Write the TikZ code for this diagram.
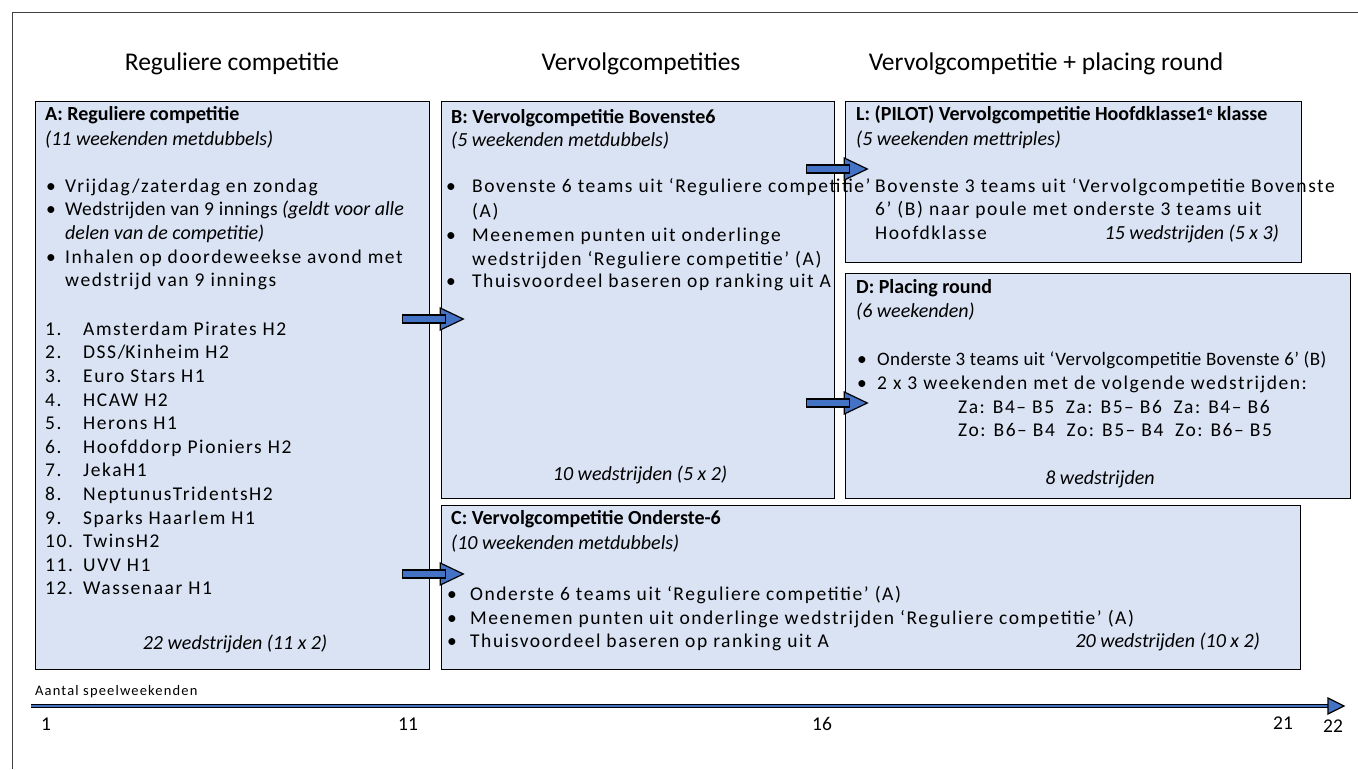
\documentclass[tikz,border=0pt]{standalone}
\usepackage{fontspec}
\usetikzlibrary{calc}
\setmainfont{Carlito}
\newfontfamily\spacedfont[LetterSpace=8]{Carlito}
\newfontfamily\tightfont[LetterSpace=2]{Carlito}
\definecolor{boxfill}{HTML}{DAE3F3}
\definecolor{arrowblue}{HTML}{4472C4}
\definecolor{framegray}{HTML}{404040}
\newcommand\bodyf{\spacedfont\fontsize{19.5}{23}\selectfont}
\tikzset{
  box/.style={draw=black, line width=1.3pt, fill=boxfill, anchor=north west, inner sep=0pt},
  t/.style={anchor=mid west, inner sep=0pt, font=\bodyf},
  tr/.style={anchor=mid east, inner sep=0pt, font=\bodyf},
  hd/.style={anchor=mid west, inner sep=0pt, font=\bfseries\fontsize{20}{24}\selectfont},
  it/.style={anchor=mid west, inner sep=0pt, font=\itshape\fontsize{20}{24}\selectfont},
  itc/.style={anchor=mid, inner sep=0pt, font=\itshape\fontsize{20}{24}\selectfont},
  itr/.style={anchor=mid east, inner sep=0pt, font=\itshape\fontsize{20}{24}\selectfont},
  ttl/.style={anchor=mid, inner sep=0pt, font=\fontsize{25.5}{30}\selectfont},
  barrow/.pic={
    \draw[fill=arrowblue, line width=1.2pt, line join=miter] (38,-11) -- (61,0) -- (38,11) -- cycle;
    \draw[fill=arrowblue, line width=1.2pt] (0,-4) rectangle (43,4);
  }
}
\begin{document}
\begin{tikzpicture}[x=1pt,y=-1pt]
\useasboundingbox (0,0) rectangle (1358,769);
% frame
\draw[framegray, line width=0.9pt] (12,769) -- (12,12) -- (1358,12);
% titles
\node[ttl] (t1) at (232,68) {Reguliere competitie};
\node[ttl] (t2) at (641,68) {Vervolgcompetities};
\node[ttl] (t3) at (1046,68) {Vervolgcompetitie + placing round};
% boxes
\node[box, minimum width=394pt, minimum height=568pt] (A) at (35,101) {};
\node[box, minimum width=393pt, minimum height=397pt] (B) at (441,101) {};
\node[box, minimum width=456pt, minimum height=161pt] (L) at (845,101) {};
\node[box, minimum width=505pt, minimum height=225pt] (D) at (845,273) {};
\node[box, minimum width=859pt, minimum height=164pt] (C) at (441,505) {};
% A text
\node[hd] (a1) at (45,118) {A: Reguliere competitie};
\node[it] (a2) at (45,143) {(11 weekenden metdubbels)};
\node[t] (a3b) at (46,190) {•};
\node[t] (a3) at (65,190) {Vrijdag/zaterdag en zondag};
\node[t] (a4b) at (46,213) {•};
\node[t, font=\tightfont\fontsize{19.5}{23}\selectfont] (a4) at (65,213) {Wedstrijden van 9 innings};
\node[it] (a4i) at ($(a4.mid east)+(4,0)$) {(geldt voor alle};
\node[it] (a5) at (65,237) {delen van de competitie)};
\node[t] (a6b) at (46,261) {•};
\node[t] (a6) at (65,261) {Inhalen op doordeweekse avond met};
\node[t] (a7) at (65,284) {wedstrijd van 9 innings};
\foreach \n/\name [count=\i from 0] in {1./Amsterdam Pirates H2, 2./DSS\slash Kinheim H2, 3./Euro Stars H1, 4./HCAW H2, 5./Herons H1, 6./Hoofddorp Pioniers H2, 7./JekaH1, 8./NeptunusTridentsH2, 9./Sparks Haarlem H1, 10./TwinsH2, 11./UVV H1, 12./Wassenaar H1}{
  \node[t] (ln\i) at (45,333+23.6*\i) {\n};
  \node[t] (lt\i) at (83,333+23.6*\i) {\name};
}
\node[itc] (a8) at (235,647) {22 wedstrijden (11 x 2)};
% B text
\node[hd] (b1) at (451,121) {B: Vervolgcompetitie Bovenste6};
\node[it] (b2) at (451,144) {(5 weekenden metdubbels)};
\node[t] (b3b) at (446,190) {•};
\node[t] (b3) at (472,190) {Bovenste 6 teams uit ‘Reguliere competitie’};
\node[t] (b4) at (472,215) {(A)};
\node[t] (b5b) at (446,239) {•};
\node[t] (b5) at (472,239) {Meenemen punten uit onderlinge};
\node[t] (b6) at (472,263) {wedstrijden ‘Reguliere competitie’ (A)};
\node[t] (b7b) at (446,285) {•};
\node[t] (b7) at (472,285) {Thuisvoordeel baseren op ranking uit A};
\node[itc] (b8) at (640,478) {10 wedstrijden (5 x 2)};
% L text
\node[hd] (l1) at (856,118) {L: (PILOT) Vervolgcompetitie Hoofdklasse1\raisebox{0.5ex}{\fontsize{12}{14}\selectfont e} klasse};
\node[it] (l2) at (856,143) {(5 weekenden mettriples)};
\node[t] (l3) at (875,190) {Bovenste 3 teams uit ‘Vervolgcompetitie Bovenste};
\node[t] (l4) at (875,213) {6’ (B) naar poule met onderste 3 teams uit};
\node[t] (l5) at (875,237) {Hoofdklasse};
\node[itr] (l6) at (1279,237) {15 wedstrijden (5 x 3)};
% D text
\node[hd] (d1) at (856,291) {D: Placing round};
\node[it] (d2) at (856,315) {(6 weekenden)};
\node[t] (d3b) at (857,363) {•};
\node[t, font=\tightfont\fontsize{19}{23}\selectfont] (d3) at (877,363) {Onderste 3 teams uit ‘Vervolgcompetitie Bovenste 6’ (B)};
\node[t] (d4b) at (857,387) {•};
\node[t] (d4) at (877,387) {2 x 3 weekenden met de volgende wedstrijden:};
\node[t] (d5) at (958,411) {Za: B4– B5\hspace{0.6em}Za: B5– B6\hspace{0.6em}Za: B4– B6};
\node[t] (d6) at (958,434) {Zo: B6– B4\hspace{0.6em}Zo: B5– B4\hspace{0.6em}Zo: B6– B5};
\node[itc] (d7) at (1100,482) {8 wedstrijden};
% C text
\node[hd] (c1) at (451,522) {C: Vervolgcompetitie Onderste-6};
\node[it] (c2) at (451,547) {(10 weekenden metdubbels)};
\node[t] (c3b) at (447,598) {•};
\node[t] (c3) at (470,598) {Onderste 6 teams uit ‘Reguliere competitie’ (A)};
\node[t] (c4b) at (447,622) {•};
\node[t] (c4) at (470,622) {Meenemen punten uit onderlinge wedstrijden ‘Reguliere competitie’ (A)};
\node[t] (c5b) at (447,645) {•};
\node[t] (c5) at (470,645) {Thuisvoordeel baseren op ranking uit A};
\node[itr] (c6) at (1260,645) {20 wedstrijden (10 x 2)};
% block arrows
\pic at ($(A.east|-0,319)+(-28,0)$) {barrow};
\pic at ($(A.east|-0,574)+(-28,0)$) {barrow};
\pic at ($(B.east|-0,169)+(-29,0)$) {barrow};
\pic at ($(B.east|-0,403)+(-29,0)$) {barrow};
% timeline
\node[anchor=mid west, inner sep=0pt, font=\spacedfont\fontsize{14.5}{17}\selectfont] (tl) at (35,693) {Aantal speelweekenden};
\coordinate (ts) at (31,706);
\coordinate (te) at (1330,706);
\draw[line width=4pt, black] (ts) -- (te);
\draw[line width=1.8pt, arrowblue] (ts) -- (te);
\draw[fill=arrowblue, line width=1.2pt, line join=miter] (1328,698) -- (1344,706) -- (1328,714) -- cycle;
\foreach \lab/\xx/\yy in {1/46/728, 11/408/728, 16/822/728, 21/1283/727, 22/1333/730}{
  \node[anchor=mid, inner sep=0pt, font=\fontsize{19.5}{23}\selectfont] (n\lab) at (\xx,\yy) {\lab};
}
\end{tikzpicture}
\end{document}
